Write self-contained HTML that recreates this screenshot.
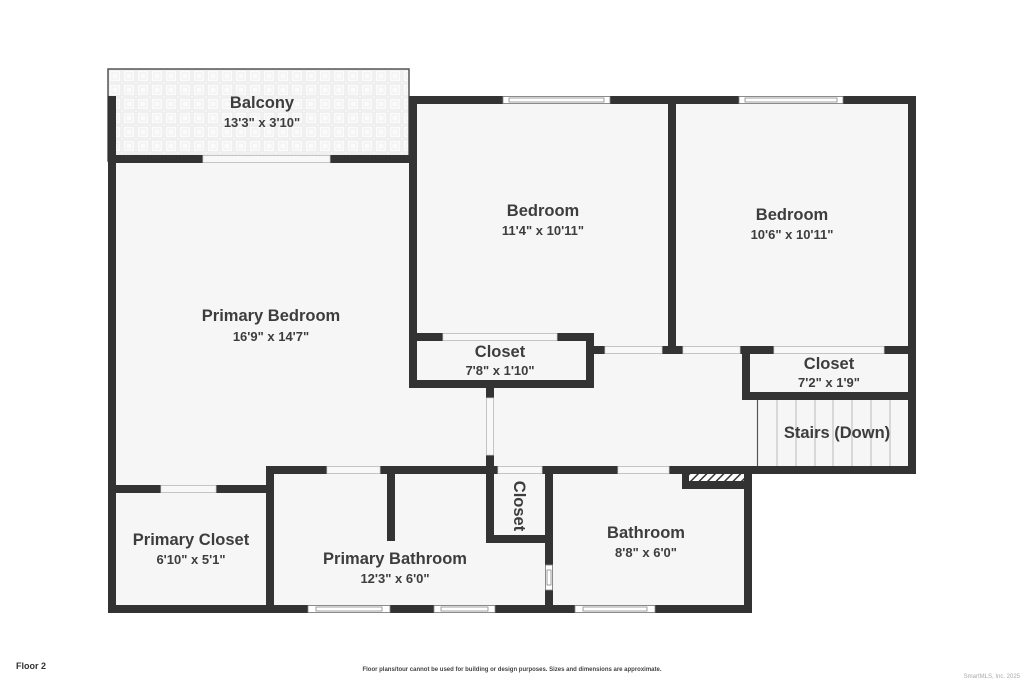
<!DOCTYPE html>
<html><head><meta charset="utf-8"><style>
html,body{margin:0;padding:0;background:#fff;}
svg{display:block;}
text{font-family:"Liberation Sans",sans-serif;fill:#3d3d3d;text-anchor:middle;font-weight:bold;}
.n{font-size:16.5px;}
.d{font-size:13px;}
</style></head><body>
<svg width="1024" height="683" viewBox="0 0 1024 683" xmlns="http://www.w3.org/2000/svg">
<defs>
<pattern id="tile" x="108" y="69" width="14" height="14" patternUnits="userSpaceOnUse">
<rect width="14" height="14" fill="#fbfbfb"/>
<rect x="1" y="1" width="12" height="12" fill="none" stroke="#e4e4e4" stroke-width="1"/>
<rect x="4" y="4" width="6" height="6" fill="none" stroke="#ececec" stroke-width="0.8"/>
</pattern>
<pattern id="hatch" width="6" height="6" patternUnits="userSpaceOnUse" patternTransform="rotate(45)">
<rect width="6" height="6" fill="#fff"/><rect width="1.5" height="6" fill="#333"/>
</pattern>
</defs>
<rect x="108" y="69" width="301" height="92" fill="url(#tile)" stroke="#555" stroke-width="1.5"/>
<rect x="112" y="160" width="800" height="450" fill="#f6f6f6"/>
<rect x="409" y="100" width="505" height="250" fill="#f6f6f6"/>
<rect x="750" y="470" width="170" height="150" fill="#fff"/>
<rect x="682" y="474" width="70" height="15" fill="#333"/>
<rect x="689" y="474" width="55" height="7" fill="url(#hatch)"/>
<rect x="744" y="474" width="8" height="139" fill="#333"/>
<rect x="112" y="493" width="154" height="113" fill="#f6f6f6"/>
<rect x="274" y="474" width="271" height="132" fill="#f6f6f6"/>
<rect x="553" y="489" width="191" height="117" fill="#f6f6f6"/>
<rect x="553" y="474" width="129" height="15" fill="#f6f6f6"/>
<g stroke="#bbb" stroke-width="1">
<line x1="777" y1="400" x2="777" y2="466"/><line x1="796" y1="400" x2="796" y2="466"/>
<line x1="815" y1="400" x2="815" y2="466"/><line x1="833" y1="400" x2="833" y2="466"/>
<line x1="852" y1="400" x2="852" y2="466"/><line x1="871" y1="400" x2="871" y2="466"/>
<line x1="890" y1="400" x2="890" y2="466"/>
</g>
<line x1="757.5" y1="400" x2="757.5" y2="466" stroke="#555" stroke-width="1.2"/>
<g fill="#333">
<rect x="108" y="96" width="8" height="517"/>
<rect x="108" y="155" width="301" height="8"/>
<rect x="409" y="96" width="507" height="8"/>
<rect x="409" y="96" width="8" height="292"/>
<rect x="668" y="96" width="8" height="258"/>
<rect x="908" y="96" width="8" height="378"/>
<rect x="108" y="605" width="644" height="8"/>
<rect x="409" y="333" width="185" height="8"/>
<rect x="586" y="333" width="8" height="55"/>
<rect x="409" y="380" width="185" height="8"/>
<rect x="594" y="346" width="322" height="8"/>
<rect x="742" y="346" width="8" height="54"/>
<rect x="742" y="392" width="174" height="8"/>
<rect x="266" y="466" width="650" height="8"/>
<rect x="486" y="388" width="8" height="86"/>
<rect x="108" y="485" width="166" height="8"/>
<rect x="266" y="466" width="8" height="147"/>
<rect x="387" y="466" width="8" height="75"/>
<rect x="486" y="466" width="8" height="77"/>
<rect x="486" y="535" width="67" height="8"/>
<rect x="545" y="466" width="8" height="147"/>
</g>
<g fill="#f8f8f8" stroke="#d0d0d0" stroke-width="0.8">
<rect x="203" y="155.5" width="127" height="7"/>
<rect x="443" y="333.5" width="114" height="7"/>
<rect x="605" y="346.5" width="57" height="7"/>
<rect x="683" y="346.5" width="57" height="7"/>
<rect x="774" y="346.5" width="110" height="7"/>
<rect x="486.5" y="398" width="7" height="57"/>
<rect x="161" y="485.5" width="55" height="7"/>
<rect x="327" y="466.5" width="53" height="7"/>
<rect x="498" y="466.5" width="44" height="7"/>
<rect x="618" y="466.5" width="51" height="7"/>
</g>
<g fill="#fff" stroke="#888" stroke-width="0.8">
<rect x="503" y="96.5" width="107" height="7"/><rect x="509" y="98" width="95" height="4"/>
<rect x="739" y="96.5" width="104" height="7"/><rect x="745" y="98" width="92" height="4"/>
<rect x="308" y="605.5" width="82" height="7"/><rect x="316" y="607" width="66" height="4"/>
<rect x="434" y="605.5" width="61" height="7"/><rect x="441" y="607" width="47" height="4"/>
<rect x="575" y="605.5" width="80" height="7"/><rect x="583" y="607" width="64" height="4"/>
<rect x="545.5" y="565" width="7" height="25"/><rect x="547" y="570" width="4" height="15"/>
</g>
<text class="n" x="262" y="108">Balcony</text><text class="d" x="262" y="127">13'3" x 3'10"</text>
<text class="n" x="543" y="216">Bedroom</text><text class="d" x="543" y="235">11'4" x 10'11"</text>
<text class="n" x="792" y="220">Bedroom</text><text class="d" x="792" y="239">10'6" x 10'11"</text>
<text class="n" x="271" y="321">Primary Bedroom</text><text class="d" x="271" y="341">16'9" x 14'7"</text>
<text class="n" x="500" y="357">Closet</text><text class="d" x="500" y="375">7'8" x 1'10"</text>
<text class="n" x="829" y="369">Closet</text><text class="d" x="829" y="387">7'2" x 1'9"</text>
<text class="n" x="837" y="438">Stairs (Down)</text>
<text class="n" x="0" y="0" transform="translate(514,506) rotate(90)">Closet</text>
<text class="n" x="646" y="538">Bathroom</text><text class="d" x="646" y="557">8'8" x 6'0"</text>
<text class="n" x="191" y="545">Primary Closet</text><text class="d" x="191" y="564">6'10" x 5'1"</text>
<text class="n" x="395" y="564">Primary Bathroom</text><text class="d" x="395" y="583">12'3" x 6'0"</text>
<text x="31" y="669" style="font-size:9px;font-weight:bold;fill:#333">Floor 2</text>
<text x="512" y="671" style="font-size:6px;font-weight:bold;fill:#444">Floor plans/tour cannot be used for building or design purposes. Sizes and dimensions are approximate.</text>
<text x="1020" y="678" style="font-size:6px;font-weight:normal;fill:#aaa;text-anchor:end">SmartMLS, Inc.  2025</text>
</svg>
</body></html>
